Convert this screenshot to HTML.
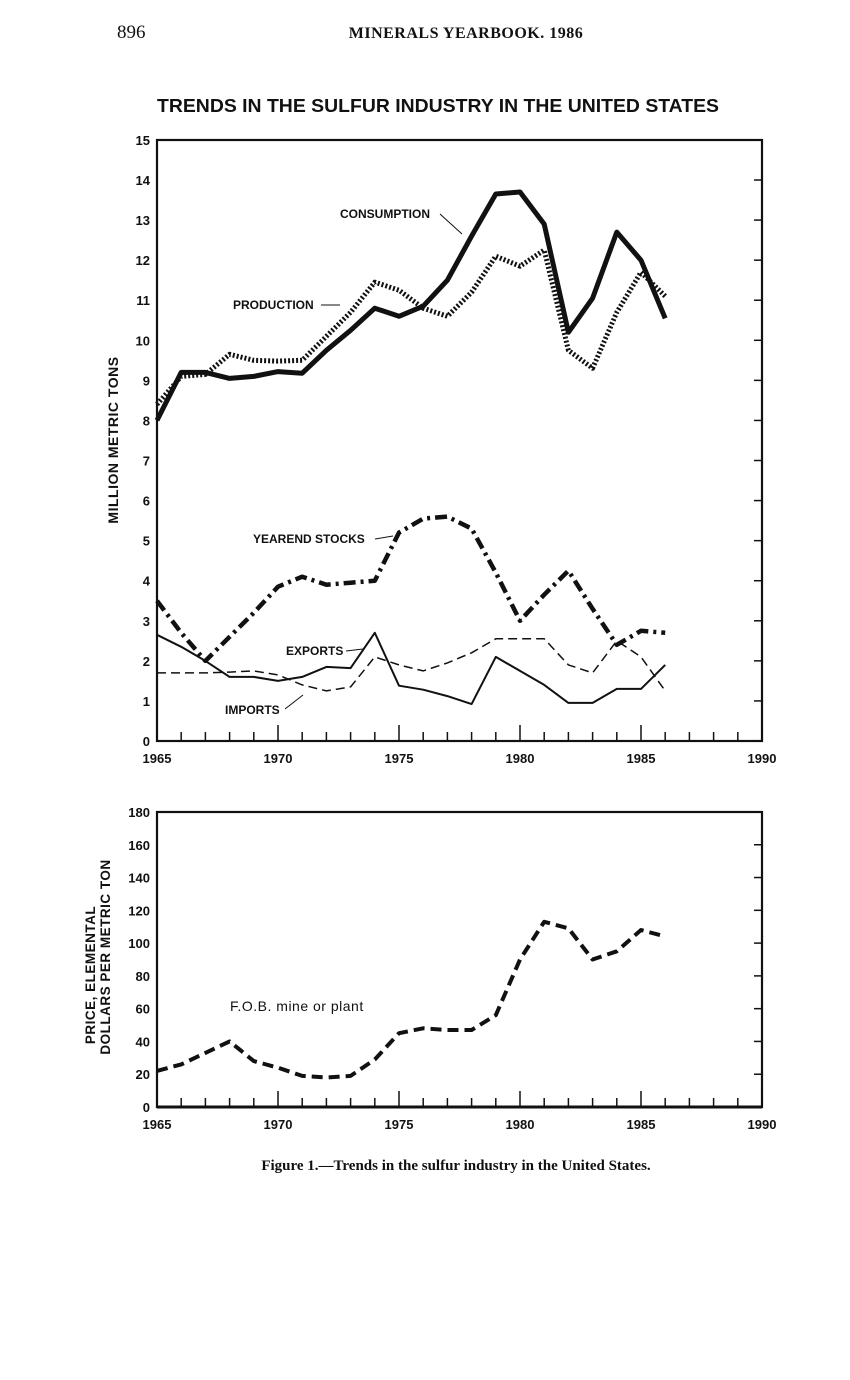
<!DOCTYPE html>
<html><head><meta charset="utf-8"><style>
html,body{margin:0;padding:0;background:#fff;}
svg{display:block;}
.s{font-family:"Liberation Sans",sans-serif;font-weight:bold;fill:#111;}
.r{font-family:"Liberation Serif",serif;fill:#111;}
</style></head><body>
<svg id="c" width="850" height="1380" xmlns="http://www.w3.org/2000/svg">
<rect width="850" height="1380" fill="#fff"/>
<text x="117" y="38" class="r" font-size="19">896</text>
<text x="466" y="38" class="r" font-size="16" text-anchor="middle" font-weight="bold" letter-spacing="0.5">MINERALS YEARBOOK. 1986</text>
<text x="438" y="112" class="s" font-size="18" text-anchor="middle" textLength="562" lengthAdjust="spacingAndGlyphs">TRENDS IN THE SULFUR INDUSTRY IN THE UNITED STATES</text>
<text transform="translate(118,440) rotate(-90)" class="s" font-size="14" text-anchor="middle" letter-spacing="0.5">MILLION METRIC TONS</text>
<text transform="translate(95,975) rotate(-90)" class="s" font-size="13.5" text-anchor="middle" letter-spacing="0.5">PRICE, ELEMENTAL</text>
<text transform="translate(110,957) rotate(-90)" class="s" font-size="13.5" text-anchor="middle" letter-spacing="0.5">DOLLARS PER METRIC TON</text>
<text x="340" y="218" class="s" font-size="12">CONSUMPTION</text>
<text x="233" y="309" class="s" font-size="12">PRODUCTION</text>
<text x="253" y="543" class="s" font-size="12">YEAREND STOCKS</text>
<text x="286" y="655" class="s" font-size="12">EXPORTS</text>
<text x="225" y="714" class="s" font-size="12">IMPORTS</text>
<text x="230" y="1011" font-family="Liberation Sans,sans-serif" font-size="14" fill="#111" letter-spacing="0.5">F.O.B. mine or plant</text>
<text x="456" y="1170" class="r" font-size="15" font-weight="bold" text-anchor="middle">Figure 1.—Trends in the sulfur industry in the United States.</text>
<g id="g" stroke="#111" fill="none"></g>
<g id="t"></g>
</svg>
<script>
var NS="http://www.w3.org/2000/svg",g=document.getElementById('g'),t=document.getElementById('t');
function el(p,n,a,txt){var e=document.createElementNS(NS,n);for(var k in a)e.setAttribute(k,a[k]);if(txt!==undefined)e.textContent=txt;p.appendChild(e);return e;}
var X0=157,XW=24.2;
function X(y){return X0+(y-1965)*XW;}
var T0=741,TU=40.07;
function TY(v){return T0-v*TU;}
function frame(top,bot,vals,fy){
  el(g,'rect',{x:157,y:top,width:605,height:bot-top,'stroke-width':2.2});
  vals.forEach(function(v){var y=fy(v);
    el(t,'text',{x:150,y:y+5,'text-anchor':'end','class':'s','font-size':13},v);
    el(g,'line',{x1:754,y1:y,x2:762,y2:y,'stroke-width':1.5});
  });
  for(var yr=1965;yr<=1990;yr++){var x=X(yr);var L=(yr%5==0)?16:9;
    el(g,'line',{x1:x,y1:bot,x2:x,y2:bot-L,'stroke-width':1.5});
    if(yr%5==0)el(t,'text',{x:x,y:bot+22,'text-anchor':'middle','class':'s','font-size':13},yr);}
}
var tv=[];for(var i=0;i<=15;i++)tv.push(i);
frame(140,741,tv,TY);
var B0=1107,BU=1.639;function BY(v){return B0-v*BU;}
var bv=[];for(var i=0;i<=180;i+=20)bv.push(i);
frame(812,1107,bv,BY);
el(g,'line',{x1:157,y1:1107,x2:762,y2:1107,'stroke-width':3});
function line(d,fy,a){var p=d.map(function(v,i){return X(1965+i).toFixed(1)+','+fy(v).toFixed(1);}).join(' ');a.points=p;a['stroke-linejoin']='round';el(g,'polyline',a);}
line([8.0,9.2,9.2,9.05,9.1,9.22,9.18,9.75,10.25,10.8,10.6,10.85,11.5,12.6,13.65,13.7,12.9,10.2,11.05,12.7,12.0,10.55],TY,{'stroke-width':5});
line([8.4,9.1,9.15,9.65,9.5,9.48,9.5,10.1,10.7,11.45,11.25,10.8,10.6,11.2,12.1,11.85,12.25,9.75,9.3,10.7,11.7,11.1],TY,{'stroke-width':5,'stroke-dasharray':'2 2'});
line([3.5,2.7,2.0,2.6,3.2,3.85,4.1,3.9,3.95,4.0,5.2,5.55,5.6,5.3,4.2,3.0,3.65,4.25,3.3,2.4,2.75,2.7],TY,{'stroke-width':4.5,'stroke-dasharray':'12 5 3 5'});
line([1.7,1.7,1.7,1.72,1.75,1.65,1.4,1.25,1.35,2.1,1.9,1.75,1.95,2.2,2.55,2.55,2.55,1.9,1.7,2.5,2.1,1.25],TY,{'stroke-width':1.5,'stroke-dasharray':'9 5'});
line([2.65,2.35,2.0,1.6,1.6,1.5,1.6,1.85,1.82,2.7,1.38,1.28,1.12,0.92,2.1,1.75,1.4,0.95,0.95,1.3,1.3,1.9],TY,{'stroke-width':2});
line([22,26,33,40,28,24,19,18,19,29,45,48,47,47,56,90,113,109,90,95,108,104],BY,{'stroke-width':4,'stroke-dasharray':'11 6'});
el(g,'line',{x1:440,y1:214,x2:462,y2:234,'stroke-width':1});
el(g,'line',{x1:321,y1:305,x2:340,y2:305,'stroke-width':1});
el(g,'line',{x1:375,y1:539,x2:393,y2:536,'stroke-width':1});
el(g,'line',{x1:346,y1:651,x2:363,y2:649,'stroke-width':1});
el(g,'line',{x1:285,y1:709,x2:303,y2:695,'stroke-width':1});
</script>
</body></html>
